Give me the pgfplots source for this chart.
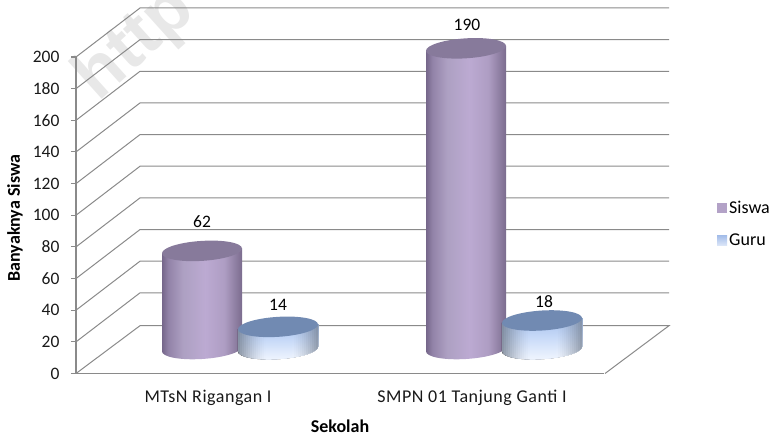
\documentclass[border=0pt]{standalone}
\usepackage{fontspec}
\setmainfont{Carlito}
\newfontfamily\spaced[LetterSpace=3.0]{Carlito}
\newfontfamily\wm{Liberation Sans}
\usepackage{pgfplots}
\pgfplotsset{compat=1.18}
\definecolor{axgray}{HTML}{8A8A8A}
\definecolor{topP}{HTML}{877A9B}
\definecolor{topB}{HTML}{718AB2}
\definecolor{pa}{HTML}{75668A}
\definecolor{pb}{HTML}{9283A8}
\definecolor{pc}{HTML}{ADA0C2}
\definecolor{pd}{HTML}{BCAAD2}
\definecolor{pe}{HTML}{AE9DC3}
\definecolor{pf}{HTML}{7B6C8E}
\definecolor{ba}{HTML}{F4F8FF}
\definecolor{bb}{HTML}{C8DAF8}
\definecolor{bc}{HTML}{9DBAEA}
\definecolor{edgeg}{HTML}{6E7886}
\definecolor{la}{HTML}{DDE7F8}
\definecolor{lb}{HTML}{A4BDE9}
\definecolor{legP}{HTML}{B3A2C7}
\pgfdeclarehorizontalshading{cylp}{100bp}{color(0bp)=(pa);color(25bp)=(pa);color(29bp)=(pb);color(38bp)=(pc);color(52bp)=(pd);color(64bp)=(pe);color(75bp)=(pf);color(100bp)=(pf)}
\newcommand\mkb[2]{%
 \colorlet{ba#1}{edgeg!#2!ba}\colorlet{bb#1}{edgeg!#2!bb}\colorlet{bc#1}{edgeg!#2!bc}%
 \pgfdeclareverticalshading{cylb#1}{100bp}{color(0bp)=(ba#1);color(25bp)=(ba#1);color(50bp)=(bb#1);color(75bp)=(bc#1);color(100bp)=(bc#1)}}
\mkb{a}{72}\mkb{b}{64}\mkb{c}{57}\mkb{d}{50}\mkb{e}{43}\mkb{f}{37}\mkb{g}{31}\mkb{h}{25}\mkb{i}{20}\mkb{j}{15}\mkb{k}{11}\mkb{l}{7}\mkb{m}{4}\mkb{n}{1}\mkb{o}{0}
\pgfdeclareverticalshading{legb}{100bp}{color(0bp)=(la);color(25bp)=(la);color(75bp)=(lb);color(100bp)=(lb)}
\newcommand\cylH{\pgfmathsetlengthmacro\hh{\val*1.5825pt}}
\newcommand\bodypath{(-40pt,0pt) -- (-40pt,-\hh) arc[start angle=180,end angle=360,x radius=40pt,y radius=10pt] -- (40pt,0pt) -- cycle}
\newcommand\strip[2]{\shade[draw=none,shading=cylb#1] (#2pt,5pt) rectangle (42pt,-\hh-12pt);}
\pgfdeclareplotmark{cylS}{%
 \cylH
 \pgftransformcm{1}{0.06}{0}{1}{\pgfpointorigin}%
 \shade[draw=none,shading=cylp] \bodypath;
 \fill[draw=none,fill=topP] (0pt,0pt) ellipse[x radius=40pt,y radius=10pt];
 }
\pgfdeclareplotmark{cylG}{%
 \cylH
 \pgftransformcm{1}{0.06}{0}{1}{\pgfpointorigin}%
 \begin{scope}
 \clip \bodypath;
 \strip{a}{-41}\strip{b}{-38}\strip{c}{-36}\strip{d}{-34}\strip{e}{-32}\strip{f}{-30}\strip{g}{-28}\strip{h}{-26}\strip{i}{-24}\strip{j}{-22}\strip{k}{-20}\strip{l}{-18}\strip{m}{-16}\strip{n}{-14}\strip{o}{-12}
 \strip{n}{14}\strip{m}{16}\strip{l}{18}\strip{k}{20}\strip{j}{22}\strip{i}{24}\strip{h}{26}\strip{g}{28}\strip{f}{30}\strip{e}{32}\strip{d}{34}\strip{c}{36}\strip{b}{38}
 \end{scope}
 \fill[draw=none,fill=topB] (0pt,0pt) ellipse[x radius=40pt,y radius=10pt];
 }
\begin{document}
\begin{tikzpicture}
\useasboundingbox (0,0) rectangle (780pt,436pt);
\node[rotate=42,text=black!9,font=\wm\bfseries\fontsize{70}{70}\selectfont,anchor=west] at (84pt,345pt) {http};
\begin{axis}[
 at={(76pt,62.5pt)},anchor=south west,
 scale only axis,width=528pt,height=316.5pt,
 xmin=-0.5,xmax=1.5,ymin=0,ymax=200,
 clip=false,
 axis x line*=bottom,axis y line*=left,
 axis line style={axgray,line width=1.1pt,-},
 xtick={0,1},xticklabels={MTsN Rigangan I,SMPN 01 Tanjung Ganti I},
 ytick={0,20,...,200},
 tick style={axgray,line width=1.1pt},
 major tick length=5pt,
 xtick style={draw=none},
 tick align=outside,
 /pgf/number format/assume math mode=true,
 yticklabel style={font=\fontsize{17.5}{17}\selectfont,text=black!90,xshift=-8pt},
 xticklabel style={font=\spaced\fontsize{18}{18}\selectfont,text=black!90,yshift=-8pt},
 xlabel={Sekolah},ylabel={Banyaknya Siswa},
 every axis x label/.style={at={(axis description cs:0.5,-0.166)},anchor=center,font=\bfseries\fontsize{18}{18}\selectfont},
 every axis y label/.style={at={(axis description cs:-0.1155,0.491)},rotate=90,anchor=center,font=\bfseries\fontsize{18}{18}\selectfont},
 legend style={draw=none,fill=none,at={(axis description cs:1.214,0.472)},anchor=west,font=\fontsize{18}{18}\selectfont,row sep=15pt,inner sep=0pt},
 legend cell align=left,
 point meta=y,
 nodes near coords,
 every node near coord/.append style={font=\fontsize{17.5}{17}\selectfont,text=black,anchor=center},
 cyl/.style 2 args={forget plot,scatter,only marks,mark=#1,xshift=#2,yshift=24.5pt,visualization depends on={y \as \val}},
]
\addlegendimage{legend image code/.code={\fill[draw=none,fill=legP] (-3pt,-5pt) rectangle (7pt,5pt);}}
\addlegendentry{Siswa}
\addlegendimage{legend image code/.code={\shade[draw=none,shading=legb] (-3pt,-5pt) rectangle (7pt,5pt);}}
\addlegendentry{Guru}
% walls
\pgfplotsinvokeforeach{20,40,...,200}{
 \draw[axgray,line width=1.0pt] (axis cs:-0.5,#1) -- ++(64pt,49pt) -- ++(529pt,0pt);
}
\draw[axgray,line width=1.0pt] (axis cs:-0.5,0) -- ++(64pt,47.8pt) -- ++(529pt,0pt) -- ++(-64pt,-47.8pt);
% cylinders
\addplot[cyl={cylS}{-6pt},every node near coord/.append style={yshift=29pt}] coordinates {(0,62)};
\addplot[cyl={cylG}{70pt},every node near coord/.append style={yshift=22pt}] coordinates {(0,14)};
\addplot[cyl={cylS}{-6pt},every node near coord/.append style={xshift=1pt,yshift=23pt}] coordinates {(1,190)};
\addplot[cyl={cylG}{70pt},every node near coord/.append style={xshift=2pt,yshift=19pt}] coordinates {(1,18)};
\end{axis}
\end{tikzpicture}
\end{document}
